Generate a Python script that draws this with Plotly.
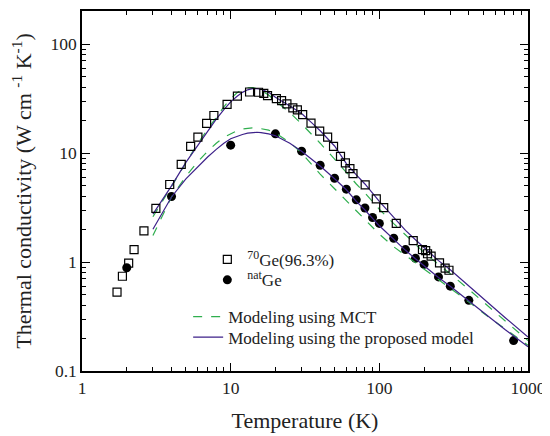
import plotly.graph_objects as go

# ---- data ----
ge70_T = [1.72, 1.87, 2.06, 2.24, 2.61, 3.14, 3.89, 4.65, 5.38, 6.02, 6.89, 7.71, 9.46, 11.1,
          13.4, 15.4, 16.7, 17.7, 20.3, 22.0, 23.9, 26.2, 28.1, 30.5, 34.7, 39.7, 44.9, 49.2,
          54.8, 59.1, 63.4, 66.5, 80.3, 95.4, 107, 130, 169, 195, 205, 211, 223, 254, 277, 294]
ge70_k = [0.53, 0.74, 0.975, 1.30, 1.93, 3.10, 5.14, 7.88, 11.5, 14.0, 18.7, 22.1, 28.0, 33.2,
          36.3, 36.1, 35.3, 33.6, 31.6, 30.3, 28.2, 25.9, 24.9, 22.5, 18.8, 15.9, 14.0, 11.5,
          9.33, 8.11, 7.19, 6.47, 5.10, 3.80, 3.15, 2.26, 1.57, 1.30, 1.27, 1.19, 1.13, 0.98, 0.88, 0.84]

nat_T = [2, 4, 10, 20, 30, 40, 50, 60, 70, 80, 90, 100, 125, 150, 175, 200, 250, 300, 400, 800]
nat_k = [0.885, 3.99, 11.8, 15.0, 10.4, 7.72, 5.87, 4.66, 3.72, 3.13, 2.56, 2.26, 1.65, 1.30,
         1.08, 0.95, 0.73, 0.60, 0.445, 0.19]

curve_T = [3, 4, 5, 6, 7, 8, 9, 10, 11, 12, 13, 14, 15, 16, 18, 20, 25, 30, 35, 40, 50, 60, 70,
           80, 100, 125, 150, 175, 200, 250, 300, 400, 500, 700, 1000]
ge70_model = [2.75, 5.0, 8.2, 11.8, 15.8, 20.5, 25, 29.5, 33, 36, 38, 39, 39, 38.5, 36, 32.5,
              27, 23, 19, 16, 11.6, 8.0, 6.3, 5.2, 3.6, 2.55, 1.95, 1.6, 1.35, 1.03, 0.85,
              0.6, 0.46, 0.31, 0.205]
ge70_mct = [2.6, 5.0, 8.3, 12.2, 16.5, 21.5, 26.5, 31.5, 35.5, 38.5, 39.7, 39.8, 39.0, 37.5,
            34, 30.0, 23.5, 18.5, 15.0, 12.3, 8.8, 6.6, 5.2, 4.3, 3.05, 2.25, 1.78, 1.45, 1.22,
            0.95, 0.78, 0.56, 0.43, 0.29, 0.19]
nat_model = [2.0, 3.95, 5.8, 7.5, 9.2, 10.8, 12.3, 13.5, 14.2, 14.8, 15.2, 15.4, 15.5, 15.4,
             15.0, 14.4, 12.3, 10.4, 8.8, 7.6, 5.8, 4.6, 3.6, 3.0, 2.15, 1.6, 1.28, 1.07, 0.92,
             0.72, 0.6, 0.44, 0.34, 0.24, 0.167]
nat_mct = [1.75, 3.95, 6.1, 8.3, 10.4, 12.3, 13.9, 15.1, 16.0, 16.6, 16.9, 17.0, 17.0, 16.8,
           16.2, 15.3, 12.5, 10.0, 7.9, 6.4, 4.7, 3.65, 2.95, 2.45, 1.8, 1.38, 1.15, 0.99, 0.87,
           0.69, 0.575, 0.43, 0.34, 0.245, 0.172]

tick_x = [1, 10, 100, 1000]
tick_y = [0.1, 1, 10, 100]
minor_x = [d * 10 ** e for e in range(0, 3) for d in range(2, 10)]
minor_y = [d * 10.0 ** e for e in range(-1, 3) for d in range(2, 10) if d * 10.0 ** e < 200]

GREEN = "#2fae4e"
PURPLE = "#3d2189"
FONT = "Liberation Serif"
TXT = "#222222"
XR = [0, 3.0]
YR = [-1, 2.303]

fig = go.Figure()

fig.add_trace(go.Scatter(x=curve_T, y=ge70_mct, mode="lines", line=dict(color=GREEN, width=1.2, dash="dash"),
                         name="Modeling using MCT", legend="legend3"))
fig.add_trace(go.Scatter(x=curve_T, y=nat_mct, mode="lines", line=dict(color=GREEN, width=1.2, dash="dash"),
                         showlegend=False, xaxis="x2", yaxis="y2"))
fig.add_trace(go.Scatter(x=curve_T, y=ge70_model, mode="lines", line=dict(color=PURPLE, width=1.2),
                         name="Modeling using the proposed model", legend="legend4"))
fig.add_trace(go.Scatter(x=curve_T, y=nat_model, mode="lines", line=dict(color=PURPLE, width=1.2),
                         showlegend=False, xaxis="x2", yaxis="y2"))

fig.add_trace(go.Scatter(x=ge70_T, y=ge70_k, mode="markers",
                         marker=dict(symbol="square-open", size=8, color="black", line=dict(width=1.2)),
                         name="<sup>70</sup>Ge(96.3%)", legend="legend"))
fig.add_trace(go.Scatter(x=nat_T, y=nat_k, mode="markers",
                         marker=dict(symbol="circle", size=9, color="black"),
                         name="<sup>nat</sup>Ge", legend="legend2"))

base = dict(type="log", showgrid=False, zeroline=False, showline=True, linecolor="black",
            linewidth=1.5, mirror="ticks", ticks="inside", tickcolor="black")

fig.update_layout(
    xaxis=dict(base, range=XR, tickvals=tick_x, ticktext=[str(v) for v in tick_x],
               ticklen=8, tickwidth=1.3,
               tickfont=dict(family=FONT, size=17.5, color=TXT),
               title=dict(text="Temperature (K)", standoff=16, font=dict(family=FONT, size=22, color=TXT))),
    yaxis=dict(base, range=YR, tickvals=tick_y, ticktext=["0.1", "1", "10", "100"],
               ticklen=8, tickwidth=1.3,
               tickfont=dict(family=FONT, size=17.5, color=TXT),
               title=dict(text="Thermal conductivity (W cm <sup>-1</sup> K<sup>-1</sup>)", standoff=16,
                          font=dict(family=FONT, size=22, color=TXT))),
    xaxis2=dict(base, range=XR, overlaying="x", anchor="y2", side="bottom",
                tickvals=minor_x, ticklen=4, tickwidth=1, showticklabels=False),
    yaxis2=dict(base, range=YR, overlaying="y", anchor="x2", side="left",
                tickvals=minor_y, ticklen=4, tickwidth=1, showticklabels=False),
)

leg = dict(xanchor="left", yanchor="middle", bgcolor="rgba(0,0,0,0)",
           font=dict(family=FONT, size=17, color=TXT), tracegroupgap=0, itemwidth=30)

fig.update_layout(
    width=542, height=428,
    margin=dict(l=74, r=22, t=1, b=65),
    paper_bgcolor="white", plot_bgcolor="white",
    legend=dict(leg, x=0.281, y=0.309),
    legend2=dict(leg, x=0.281, y=0.252),
    legend3=dict(leg, x=0.238, y=0.150),
    legend4=dict(leg, x=0.238, y=0.093),
)

fig.write_html("out.html")
